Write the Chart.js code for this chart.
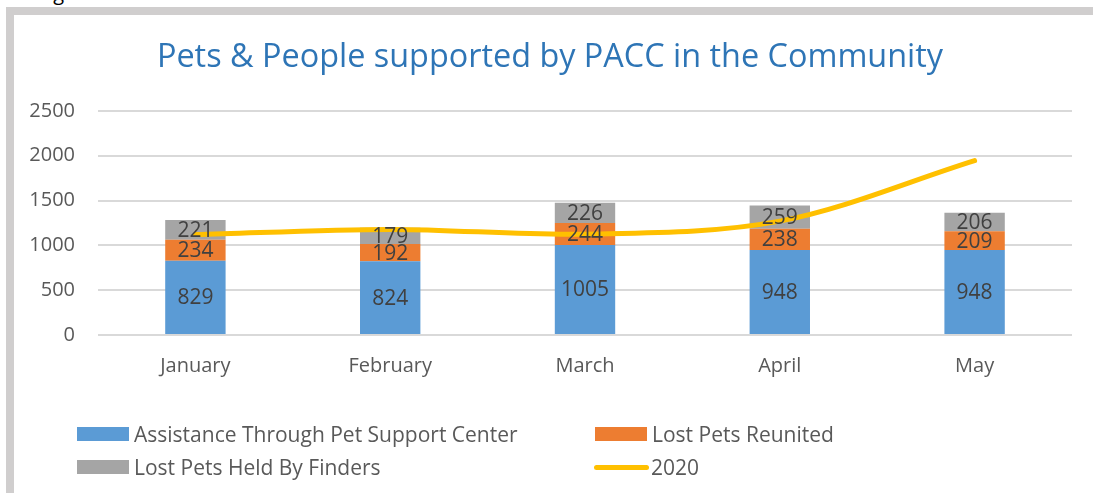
<!DOCTYPE html>
<html>
<head>
<meta charset="utf-8">
<script src="https://cdn.jsdelivr.net/npm/chart.js@4.4.1/dist/chart.umd.min.js"></script>
<style>
  html, body { margin: 0; padding: 0; background: #ffffff; }
  body { width: 1093px; height: 493px; overflow: hidden; position: relative; font-family: "Open Sans", sans-serif; }
  #frame { position: absolute; left: 6px; top: 7px; width: 1200px; height: 600px; border-left: 8px solid #D0CECE; border-top: 8px solid #D0CECE; box-sizing: border-box; }
  #cut { position: absolute; left: 38px; top: -19px; font-size: 20px; color: #000; line-height: 24px; }
  #c { position: absolute; left: 0; top: 0; }
  .leg { position: absolute; font-size: 21px; color: #595959; line-height: 24px; white-space: nowrap; }
  .box { position: absolute; width: 52px; height: 14px; }
  .ln { position: absolute; width: 55px; height: 5px; border-radius: 3px; background: #FFC000; }
</style>
</head>
<body>
<div id="cut">Figure</div>
<div id="frame"></div>
<canvas id="c" width="1093" height="493"></canvas>
<div id="legend"></div>
<script>
const categories = ["January", "February", "March", "April", "May"];
const assistance = [829, 824, 1005, 948, 948];
const reunited = [234, 192, 244, 238, 209];
const heldByFinders = [221, 179, 226, 259, 206];
const line2020 = [1120, 1178, 1125, 1270, 1945];
const yTicks = [0, 500, 1000, 1500, 2000, 2500];
const seriesNames = ["Assistance Through Pet Support Center", "Lost Pets Reunited", "Lost Pets Held By Finders", "2020"];
const colors = ["#5B9BD5", "#ED7D31", "#A5A5A5", "#FFC000"];

const labelPlugin = {
  id: 'segLabels',
  afterDatasetsDraw(chart) {
    const ctx = chart.ctx;
    ctx.save();
    ctx.font = '21px "Open Sans"';
    ctx.fillStyle = '#404040';
    ctx.textAlign = 'center';
    ctx.textBaseline = 'middle';
    chart.data.datasets.forEach((ds, i) => {
      if (ds.type === 'line') return;
      const meta = chart.getDatasetMeta(i);
      meta.data.forEach((bar, j) => {
        const p = bar.getProps(['x', 'y', 'base'], true);
        ctx.fillText(String(ds.data[j]), p.x, (p.y + p.base) / 2 + 1);
      });
    });
    ctx.restore();
  }
};

new Chart(document.getElementById('c'), {
  data: {
    labels: categories,
    datasets: [
      { type: 'line', label: seriesNames[3], data: line2020, borderColor: colors[3], backgroundColor: colors[3], borderWidth: 5, pointRadius: 0, tension: 0.33, order: 0, borderCapStyle: 'round', stack: 'line' },
      { type: 'bar', label: seriesNames[0], data: assistance, backgroundColor: colors[0], order: 1, stack: 's' },
      { type: 'bar', label: seriesNames[1], data: reunited, backgroundColor: colors[1], order: 1, stack: 's' },
      { type: 'bar', label: seriesNames[2], data: heldByFinders, backgroundColor: colors[2], order: 1, stack: 's' }
    ]
  },
  options: {
    responsive: false,
    animation: false,
    datasets: { bar: { categoryPercentage: 1, barPercentage: 0.31 } },
    layout: { padding: { top: 38, left: 28, right: 21, bottom: 113 } },
    plugins: {
      legend: { display: false },
      tooltip: { enabled: false },
      title: {
        display: true,
        text: "Pets & People supported by PACC in the Community",
        color: '#2E75B6',
        font: { family: '"Open Sans"', size: 32.4, weight: 'normal' },
        padding: { top: 0, bottom: 34 }
      }
    },
    scales: {
      x: {
        stacked: true,
        afterFit(scale) { scale.height = 45; },
        grid: { display: false, drawTicks: false },
        border: { display: false },
        ticks: { color: '#595959', font: { family: '"Open Sans"', size: 20 }, padding: 19 }
      },
      y: {
        stacked: true,
        min: 0, max: 2500,
        afterBuildTicks(scale) { scale.ticks = yTicks.map(v => ({ value: v })); },
        afterFit(scale) { scale.width = 70; },
        grid: { color: '#D9D9D9', lineWidth: 2, drawTicks: false },
        border: { display: false },
        ticks: { color: '#595959', font: { family: '"Open Sans"', size: 20 }, padding: 23, callback: v => String(v) }
      }
    }
  },
  plugins: [labelPlugin]
});

// HTML legend (2x2 grid as in the reference)
const legend = document.getElementById('legend');
const cells = [
  { i: 0, x: 77, y: 434 },
  { i: 1, x: 595, y: 434 },
  { i: 2, x: 77, y: 467 },
  { i: 3, x: 594, y: 467 }
];
cells.forEach(c => {
  let mark = document.createElement('div');
  if (c.i === 3) {
    mark.className = 'ln';
    mark.style.left = c.x + 'px';
    mark.style.top = (c.y - 2) + 'px';
  } else {
    mark.className = 'box';
    mark.style.left = c.x + 'px';
    mark.style.top = (c.y - 7) + 'px';
    mark.style.background = colors[c.i];
  }
  legend.appendChild(mark);
  const t = document.createElement('div');
  t.className = 'leg';
  t.textContent = seriesNames[c.i];
  t.style.left = (c.x + 57) + 'px';
  t.style.top = (c.y - 12) + 'px';
  legend.appendChild(t);
});
</script>
</body>
</html>
